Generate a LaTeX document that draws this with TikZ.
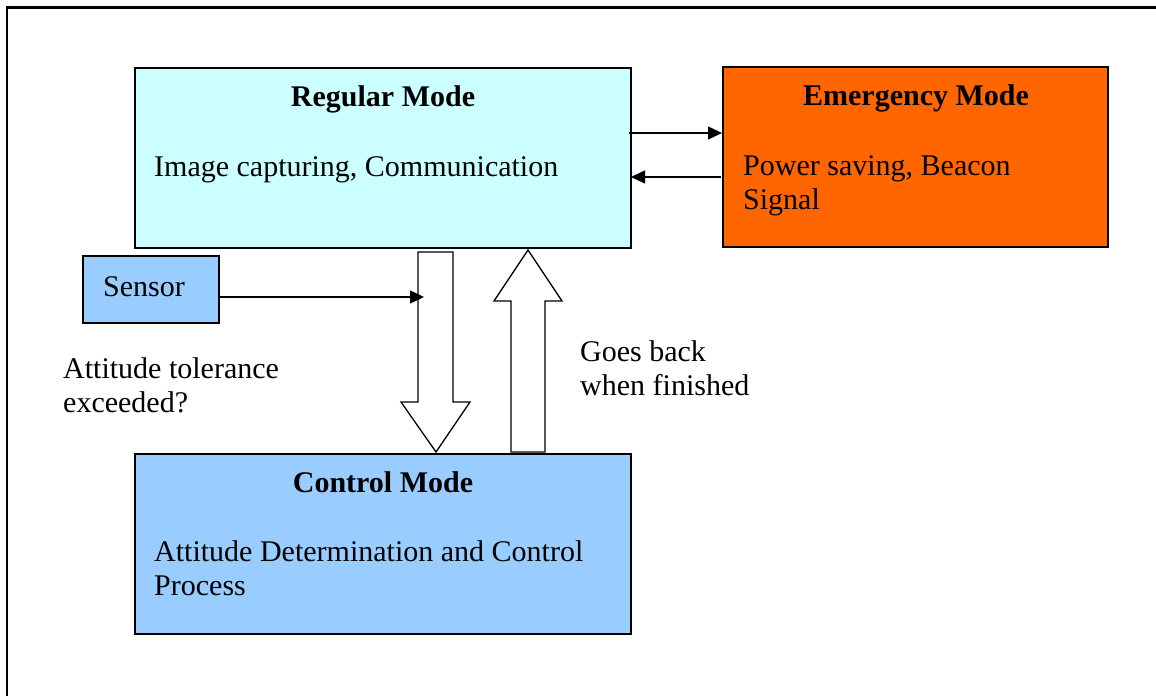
\documentclass[tikz,border=0pt]{standalone}
\usepackage{fontspec}
\setmainfont{Liberation Serif}
\usetikzlibrary{arrows.meta,calc}
\definecolor{regfill}{HTML}{CCFFFF}
\definecolor{emfill}{HTML}{FF6600}
\definecolor{ctlfill}{HTML}{99CCFF}
\tikzset{
  modebox/.style={draw=black, line width=1.5pt, inner sep=0pt, outer sep=0pt,
    anchor=north west, minimum width=#1},
  modebox/.default=100pt,
  title/.style={font=\fontsize{30}{34}\selectfont\bfseries, anchor=base, inner sep=0pt},
  body/.style={font=\fontsize{30}{34}\selectfont, anchor=base west, inner sep=0pt, align=left},
  blockarrow/.style={draw=black, fill=white, line width=1.3pt, line join=miter},
  arr/.style={line width=1.5pt, -{Triangle[length=14pt,width=13pt]}}
}
\begin{document}
\begin{tikzpicture}[x=1pt,y=-1pt]
\useasboundingbox (0,0) rectangle (1156,696);
% outer frame (top and left edges)
\draw[line width=2.5pt] (7,696) -- (7,7.5) -- (1156,7.5);

% mode boxes
\node[modebox=496pt, minimum height=180pt, fill=regfill] (reg) at (135,68) {};
\node[modebox=385pt, minimum height=180pt, fill=emfill] (emg) at (723,67) {};
\node[modebox=496pt, minimum height=180pt, fill=ctlfill] (ctl) at (135,454) {};
\node[modebox=136pt, minimum height=67pt, fill=ctlfill] (sen) at (83,256) {};

% box texts (multi-line nodes are placed by their last baseline)
\node[title] (regt) at (383,106) {Regular Mode};
\node[body] (regb) at (154,176) {Image capturing, Communication};
\node[title] (emgt) at (916,105) {Emergency Mode};
\node[body] (emgb) at (743,209) {Power saving, Beacon\\Signal};
\node[title] (ctlt) at (383,492) {Control Mode};
\node[body] (ctlb) at (154,595) {Attitude Determination and Control\\Process};
\node[body] (sent) at (103,296) {Sensor};

% free labels
\node[body] (tol) at (63,412) {Attitude tolerance\\exceeded?};
\node[body] (back) at (580,395) {Goes back\\when finished};

% block arrows between regular and control mode
\draw[blockarrow] (418,252) -- (453,252) -- (453,402) -- (470,402) -- (436,452)
  -- (401,402) -- (418,402) -- cycle;
\draw[blockarrow] (511,452) -- (545,452) -- (545,301) -- (562,301) -- (528,250)
  -- (494,301) -- (511,301) -- cycle;

% sensor input
\coordinate (senout) at (sen.east |- 0,297);
\coordinate (shaft) at (424,297);
\draw[arr] (senout) -- (shaft);

% regular <-> emergency
\draw[arr] ($(reg.east |- 0,133)+(-2,0)$) -- ($(emg.west |- 0,133)+(-1,0)$);
\draw[arr] ($(emg.west |- 0,177)+(-2,0)$) -- (reg.east |- 0,177);
\end{tikzpicture}
\end{document}
